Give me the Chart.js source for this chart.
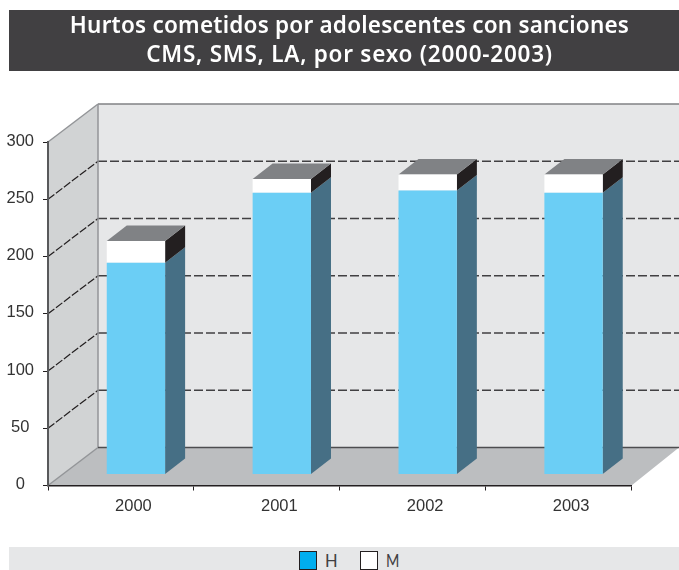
<!DOCTYPE html>
<html lang="es">
<head>
<meta charset="utf-8">
<title>Hurtos cometidos por adolescentes</title>
<script src="https://cdn.jsdelivr.net/npm/chart.js@4"></script>
<style>
  html, body { margin: 0; padding: 0; background: #fff; }
  #lienzo { position: relative; width: 679px; height: 570px; overflow: hidden; }
  #grafica { position: absolute; left: 0; top: 0; }
  #titulo {
    position: absolute; left: 9px; top: 10px; width: 670px; height: 61px;
    background: #414042; color: #fff; text-align: center;
    font: 600 22.5px/29px "Noto Sans", sans-serif;
    letter-spacing: 0.75px; padding: 0 0 0 11px; box-sizing: border-box;
  }
  #titulo .primera { letter-spacing: 0.22px; }
  #leyenda {
    position: absolute; left: 9px; top: 547px; width: 670px; height: 23px;
    background: #e6e7e8;
  }
  #leyenda span { position: absolute; top: 4px; }
  #leyenda .caja { width: 16px; height: 17px; border: 1.5px solid #231f20; }
  #leyenda .letra { top: 1px; font: 18px/24px Lato, sans-serif; color: #414042; transform-origin: left; }
</style>
</head>
<body>
<div id="lienzo">
  <canvas id="grafica" width="679" height="570"></canvas>
  <div id="titulo"><span class="primera">Hurtos cometidos por adolescentes con sanciones</span><br>CMS, SMS, LA, por sexo (2000-2003)</div>
  <div id="leyenda"></div>
</div>
<script>
const anios = ['2000', '2001', '2002', '2003'];
const hombres = [185, 246, 248, 246];
const mujeres = [19, 12, 14, 16];
const etiquetas = ['H', 'M'];

// profundidad de la caja y de las barras, en pixeles
const FONDO_X = 50, FONDO_Y = 38;
const BARRA_X = 20, BARRA_Y = 15.5;
const DESPLAZA_X = 15, DESPLAZA_Y = 11;
const BORDE_DER = 679;

function poligono(ctx, puntos, color) {
  ctx.fillStyle = color;
  ctx.beginPath();
  puntos.forEach((p, i) => i ? ctx.lineTo(p[0], p[1]) : ctx.moveTo(p[0], p[1]));
  ctx.closePath();
  ctx.fill();
}

function linea(ctx, x1, y1, x2, y2, color, ancho, guion) {
  ctx.strokeStyle = color;
  ctx.lineWidth = ancho;
  ctx.setLineDash(guion || []);
  ctx.beginPath();
  ctx.moveTo(x1, y1);
  ctx.lineTo(x2, y2);
  ctx.stroke();
  ctx.setLineDash([]);
}

// paredes, suelo y lineas de la cuadricula
const caja3d = {
  id: 'caja3d',
  beforeDraw(chart) {
    const { ctx, chartArea: a, scales: { y } } = chart;
    const fx = a.left + FONDO_X, arriba = a.top - FONDO_Y, abajo = a.bottom - FONDO_Y;
    ctx.save();
    poligono(ctx, [[fx, arriba], [BORDE_DER, arriba], [BORDE_DER, abajo], [fx, abajo]], '#e6e7e8');
    poligono(ctx, [[a.left, a.top], [fx, arriba], [fx, abajo], [a.left, a.bottom]], '#d1d3d4');
    poligono(ctx, [[a.left, a.bottom], [fx, abajo], [BORDE_DER, abajo], [a.right, a.bottom]], '#bcbec0');

    y.ticks.forEach(t => {
      if (t.value === 0 || t.value === y.max) return;
      const py = y.getPixelForValue(t.value);
      linea(ctx, a.left, py, fx, py - FONDO_Y, '#231f20', 1.2, [8, 2]);
      linea(ctx, fx, py - FONDO_Y, BORDE_DER, py - FONDO_Y, '#414042', 1.6, [9, 3]);
    });

    linea(ctx, a.left, a.top, fx, arriba, '#939598', 1.5);
    linea(ctx, fx, arriba, BORDE_DER, arriba, '#808285', 1.5);
    linea(ctx, fx, arriba, fx, abajo, '#939598', 1.5);
    linea(ctx, a.left, a.bottom, fx, abajo, '#939598', 1.5);
    linea(ctx, fx, abajo, BORDE_DER, abajo, '#4d4d4f', 1.5);
    ctx.restore();
  },
  // caras laterales y tapa de las barras; el frente lo dibuja Chart.js
  beforeDatasetsDraw(chart) {
    const { ctx } = chart;
    ctx.save();
    chart.data.datasets.forEach((ds, d) => {
      chart.getDatasetMeta(d).data.forEach(barra => {
        const der = barra.x + barra.width / 2 + DESPLAZA_X;
        const izq = der - barra.width;
        const sup = barra.y - DESPLAZA_Y, inf = barra.base - DESPLAZA_Y;
        poligono(ctx, [[der, inf], [der + BARRA_X, inf - BARRA_Y], [der + BARRA_X, sup - BARRA_Y], [der, sup]], ds.colorLado);
        if (d === chart.data.datasets.length - 1) {
          poligono(ctx, [[izq, sup], [izq + BARRA_X, sup - BARRA_Y], [der + BARRA_X, sup - BARRA_Y], [der, sup]], '#808285');
        }
      });
    });
    ctx.restore();
    ctx.save();
    ctx.translate(DESPLAZA_X, -DESPLAZA_Y);
  },
  afterDatasetsDraw(chart) {
    chart.ctx.restore();
  }
};

const series = [
  { label: etiquetas[0], data: hombres, backgroundColor: '#6bcef5', colorLado: '#466f85', muestra: '#00aeef' },
  { label: etiquetas[1], data: mujeres, backgroundColor: '#ffffff', colorLado: '#231f20', muestra: '#ffffff' }
];

new Chart(document.getElementById('grafica'), {
  type: 'bar',
  plugins: [caja3d],
  data: { labels: anios, datasets: series },
  options: {
    responsive: false,
    animation: false,
    layout: { padding: { top: 142, right: 47.5, left: 0, bottom: 0 } },
    categoryPercentage: 1,
    barPercentage: 0.4,
    scales: {
      x: {
        stacked: true,
        afterFit(s) { s.height = 84.5; },
        border: { color: '#231f20', width: 1.5 },
        grid: { drawOnChartArea: false, tickLength: 5, tickColor: '#231f20', tickWidth: 1 },
        ticks: {
          labelOffset: 12.5, padding: 6, maxRotation: 0,
          color: '#333333', font: { family: '"Liberation Sans"', size: 16.5 }
        }
      },
      y: {
        stacked: true,
        min: 0,
        max: 300,
        afterFit(s) { s.width = 48; },
        border: { color: '#58595b', width: 2 },
        grid: { drawOnChartArea: false, tickLength: 5, tickColor: '#231f20', tickWidth: 1 },
        ticks: {
          stepSize: 50, crossAlign: 'center', padding: 9, labelOffset: -1,
          color: '#333333', font: { family: '"Liberation Sans"', size: 16.5 }
        }
      }
    },
    plugins: { legend: { display: false }, tooltip: { enabled: false } }
  }
});

// leyenda
const leyenda = document.getElementById('leyenda');
const posiciones = [[290, 315.5], [350.5, 377]];
const anchoLetra = [0.92, 0.8];
series.forEach((s, i) => {
  const caja = document.createElement('span');
  caja.className = 'caja';
  caja.style.left = posiciones[i][0] + 'px';
  caja.style.background = s.muestra;
  const letra = document.createElement('span');
  letra.className = 'letra';
  letra.style.left = posiciones[i][1] + 'px';
  letra.style.transform = 'scaleX(' + anchoLetra[i] + ')';
  letra.textContent = s.label;
  leyenda.append(caja, letra);
});
</script>
</body>
</html>
